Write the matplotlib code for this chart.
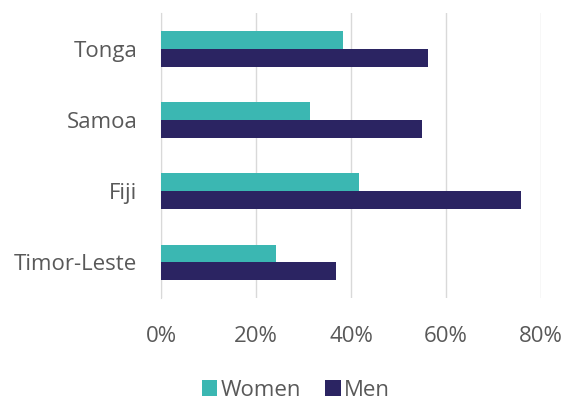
import numpy as np
import matplotlib
matplotlib.use("Agg")
import matplotlib.pyplot as plt
from matplotlib.ticker import FuncFormatter

plt.rcParams['font.family'] = ['Open Sans', 'DejaVu Sans']

# data
countries = ["Timor-Leste", "Fiji", "Samoa", "Tonga"]
women = [0.242, 0.417, 0.314, 0.383]
men = [0.368, 0.758, 0.550, 0.562]
x_ticks = [0.0, 0.2, 0.4, 0.6, 0.8]

teal = "#3BB7B2"
navy = "#2B2462"
grey_text = "#595959"

fig = plt.figure(figsize=(5.67, 4.03), dpi=100)
ax = fig.add_axes([0.284, 0.2605, 0.670, 0.707])

y = np.arange(len(countries))
h = 0.25
ax.barh(y + h / 2, women, height=h, color=teal, label="Women", zorder=3)
ax.barh(y - h / 2, men, height=h, color=navy, label="Men", zorder=3)

ax.set_xlim(0, 0.8)
ax.set_ylim(-0.5, len(countries) - 0.5)
ax.set_xticks(x_ticks)
ax.xaxis.set_major_formatter(FuncFormatter(lambda v, p: f"{v * 100:.0f}%"))
ax.set_yticks(y)
ax.set_yticklabels(countries)

ax.grid(axis="x", color="#D9D9D9", linewidth=1, zorder=0)
for side in ["top", "right", "bottom"]:
    ax.spines[side].set_visible(False)
ax.spines["left"].set_color("#D9D9D9")
ax.tick_params(axis="both", length=0, labelsize=16, colors=grey_text)
ax.tick_params(axis="x", pad=20)
ax.tick_params(axis="y", pad=17)

ax.legend(loc="center", bbox_to_anchor=(0.522, 0.032),
          bbox_transform=fig.transFigure, ncol=2, frameon=False,
          fontsize=16, handlelength=0.7, handleheight=0.7,
          handletextpad=0.15, columnspacing=1.1, labelcolor=grey_text)

fig.savefig("out.png", dpi=100)
